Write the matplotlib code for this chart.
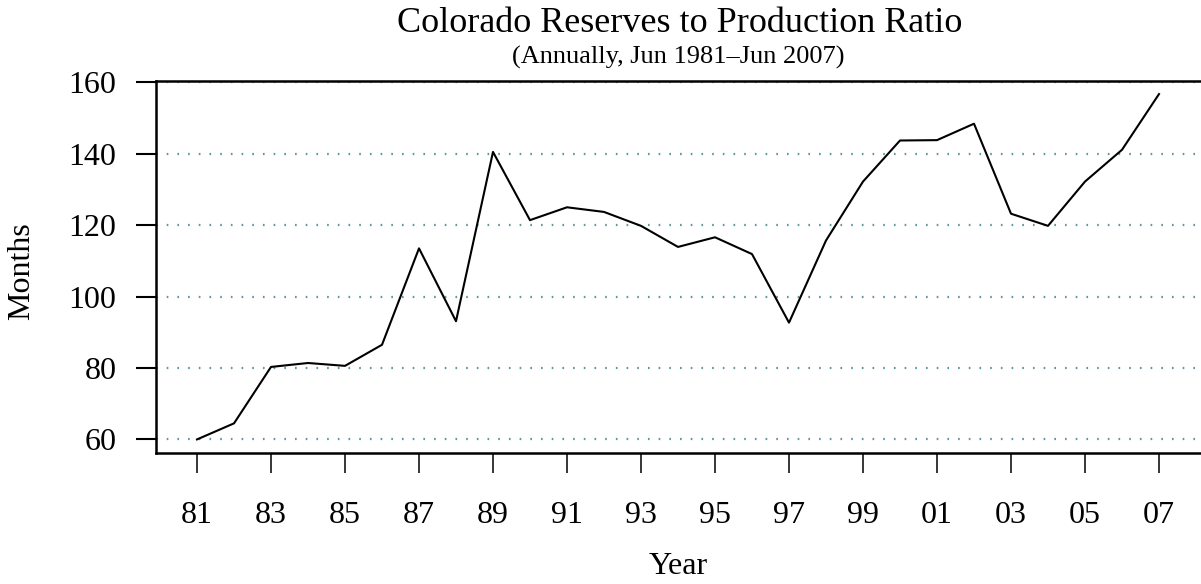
import matplotlib
matplotlib.use("Agg")
import matplotlib.pyplot as plt

# Colorado reserves to production ratio, annual (June) values
years = list(range(1981, 2008))
months = [60.0, 64.5, 80.3, 81.4, 80.6, 86.5, 113.5, 93.1, 140.5, 121.4,
          125.0, 123.7, 119.8, 113.9, 116.6, 111.9, 92.7, 115.7, 132.2, 143.7,
          143.8, 148.4, 123.2, 119.8, 132.2, 141.1, 156.7]
tick_years = list(range(1981, 2008, 2))
tick_labels = ["81", "83", "85", "87", "89", "91", "93", "95", "97", "99",
               "01", "03", "05", "07"]
y_ticks = [60, 80, 100, 120, 140, 160]

plt.rcParams["font.family"] = ["Liberation Serif", "DejaVu Serif"]
plt.rcParams["lines.scale_dashes"] = False

W, H = 1201, 584
fig = plt.figure(figsize=(W / 100, H / 100), dpi=100)

# axes box in pixels: left 156, top 81, bottom 453, runs off the right edge
ax = fig.add_axes([156 / W, (H - 453) / H, 1 - 156 / W, (453 - 81) / H])

px_per_year = 37.0
x0 = 1981 - 41 / px_per_year
ax.set_xlim(x0, x0 + (W - 156) / px_per_year)
ax.set_ylim(56.2, 160.36)

for y in y_ticks:
    ax.axhline(y, color="#5f979e", linewidth=1.6, linestyle=(0, (1.2, 6.5)), zorder=1)

ax.plot(years, months, color="black", linewidth=1.5, zorder=3)

ax.set_xticks(tick_years)
ax.set_xticklabels(tick_labels)
ax.set_yticks(y_ticks)
ax.tick_params(axis="x", direction="out", length=14.5, width=1.1, pad=20, labelsize=23)
ax.tick_params(axis="y", direction="out", length=14.5, width=1.5, pad=14, labelsize=23)

ax.spines["right"].set_visible(False)
for s in ["left", "top", "bottom"]:
    ax.spines[s].set_linewidth(1.8)

fig.text(680 / W, 1 - 23 / H, "Colorado Reserves to Production Ratio",
         ha="center", va="center", fontsize=26)
fig.text(678 / W, 1 - 57 / H, "(Annually, Jun 1981\u2013Jun 2007)",
         ha="center", va="center", fontsize=19)
fig.text(22 / W, 1 - 271 / H, "Months", rotation=90, ha="center", va="center", fontsize=23)
fig.text(678 / W, 1 - 567 / H, "Year", ha="center", va="center", fontsize=23)

fig.savefig("out.png", dpi=100)
